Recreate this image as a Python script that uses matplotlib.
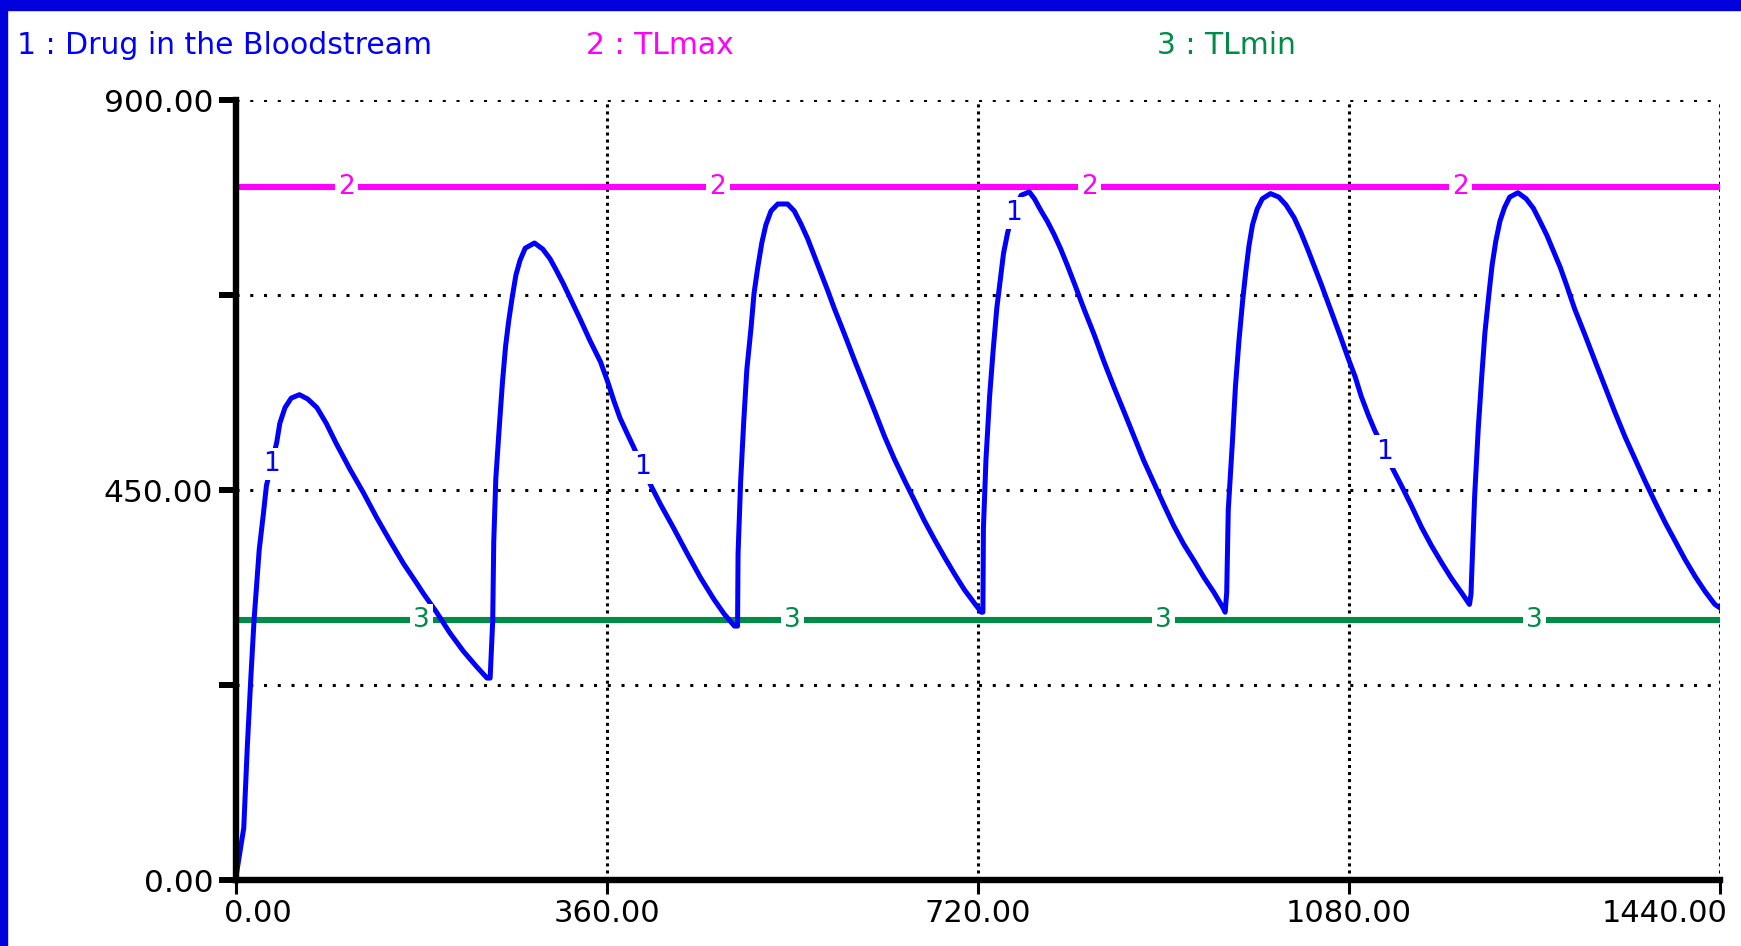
"""Drug in the bloodstream vs. therapeutic limits (STELLA-style time graph)."""

import numpy as np
import matplotlib
matplotlib.use("Agg")
import matplotlib.pyplot as plt
from matplotlib.patches import Rectangle
from matplotlib.transforms import ScaledTranslation

# ---------------------------------------------------------------------------
# Data (time in minutes, amount of drug)
# ---------------------------------------------------------------------------
drug_t = [
    0, 8, 11.5, 15, 18, 23, 27, 30, 35, 40, 43, 48, 54, 62, 70, 79, 88, 98,
    111, 124, 137, 150, 163, 176, 182, 195, 208, 221, 234, 244,
    247, 249.5, 250.5, 252.5, 256, 259, 262, 265, 268.5, 272, 276, 281, 290,
    298, 305, 311, 318, 324, 334, 344, 354, 361, 367, 373, 380, 386, 395,
    403, 412, 425, 438, 451, 464, 474, 484,
    487, 487.5, 490, 493, 496, 500, 503, 506.5, 510.5, 514.5, 519.5, 526,
    535.5, 542, 548.5, 555, 561.5, 568, 574.5, 581, 591, 600, 610, 620,
    629.5, 639, 649, 659, 668, 678, 688, 698, 707, 717, 723.5,
    725, 725.5, 728, 731.5, 735, 738.5, 742, 745, 749, 752, 757, 762, 770,
    775, 781, 787.5, 794, 800.5, 807, 813.5, 823, 833, 842.5, 852, 862,
    871.5, 881, 891, 900.5, 910, 920, 930, 939.5, 949, 957, 960,
    961.5, 963, 967, 970, 973.5, 977, 980, 983, 986.5, 991, 996, 1004, 1012,
    1019, 1027, 1033.5, 1040, 1046.5, 1053, 1059.5, 1066, 1072.5, 1079,
    1086, 1092, 1099, 1105, 1114, 1121, 1131, 1141, 1150.5, 1160, 1170,
    1179.5, 1189, 1197,
    1198.5, 1199, 1202, 1205.5, 1209, 1212, 1216, 1219, 1222.5, 1226.5,
    1231, 1236, 1244, 1252, 1259, 1265, 1272, 1278, 1285, 1291, 1299, 1309,
    1319, 1328.5, 1338, 1348, 1357.5, 1367, 1377, 1387, 1396.5, 1406, 1416,
    1425.5, 1435, 1440,
]
drug_v = [
    0, 60, 155, 236, 300, 381, 422, 455, 480, 505, 527, 545, 556, 560, 555,
    545, 527, 503, 474, 447, 418, 391, 365, 342, 331, 309, 285, 264, 246, 233,
    233, 299, 390, 463, 525, 575, 616, 645, 673, 698, 715, 729, 735,
    728, 717, 704, 688, 673, 648, 622, 598, 575, 553, 533, 515, 500, 476,
    455, 434, 406, 377, 349, 324, 307, 293,
    293, 377, 460, 529, 589, 636, 677, 706, 735, 756, 772, 780,
    780, 772, 757, 740, 720, 700, 680, 659, 629, 601, 571, 541,
    512, 486, 461, 437, 415, 393, 372, 352, 335, 319, 309,
    309, 406, 486, 558, 612, 660, 694, 723, 747, 760, 776, 790, 794,
    786, 773, 760, 745, 728, 709, 689, 659, 629, 598, 569, 540,
    512, 484, 458, 433, 409, 387, 368, 349, 332, 316, 309,
    332, 427, 505, 570, 624, 669, 702, 731, 756, 774, 786, 792, 788,
    779, 764, 747, 728, 708, 688, 667, 646, 625, 603,
    581, 558, 536, 519, 497, 478, 455, 431, 407, 386, 366,
    348, 332, 318,
    330, 348, 443, 521, 583, 632, 678, 710, 737, 760,
    776, 788, 793, 786, 775, 761, 744, 727, 707, 687, 659, 629,
    598, 569, 540, 511, 486, 461, 436, 412, 391, 370, 350,
    333, 318, 314,
]
tlmax_t = [0, 1440]
tlmax_v = [800, 800]
tlmin_t = [0, 1440]
tlmin_v = [300, 300]

# where the series numbers sit on each curve
label1_t = [35, 395, 755, 1115]
label2_t = [108, 468, 828, 1188]
label3_t = [180, 540, 900, 1260]

legend_names = ["1 : Drug in the Bloodstream", "2 : TLmax", "3 : TLmin"]
x_ticks = [0, 360, 720, 1080, 1440]
x_labels = ["0.00", "360.00", "720.00", "1080.00", "1440.00"]
y_ticks = [0, 225, 450, 675, 900]
y_labels = ["0.00", "", "450.00", "", "900.00"]

BLUE = "#0000FF"
MAGENTA = "#FF00FF"
GREEN = "#008C46"
FRAME = "#0000DD"

W, H = 1741, 946
fig = plt.figure(figsize=(W / 100, H / 100), dpi=100)
ax = fig.add_axes([235.5 / W, 1 - 880 / H, (1720 - 235.5) / W, 780 / H])

# frame of the window: blue band on top and left
fig.add_artist(Rectangle((0, 1 - 10 / H), 1, 10 / H, transform=fig.transFigure,
                         color=FRAME, zorder=10))
fig.add_artist(Rectangle((0, 0), 7 / W, 1, transform=fig.transFigure,
                         color=FRAME, zorder=10))

# curves
ax.plot(tlmax_t, tlmax_v, color=MAGENTA, linewidth=4.4, zorder=3,
        solid_capstyle="butt")
ax.plot(tlmin_t, tlmin_v, color=GREEN, linewidth=4.4, zorder=3,
        solid_capstyle="butt")
ax.plot(drug_t, drug_v, color=BLUE, linewidth=3.6, zorder=4)

# series numbers on the curves, knocked out of the line
box = dict(boxstyle="square,pad=0.12", fc="white", ec="none")
for t in label1_t:
    ax.text(t, np.interp(t, drug_t, drug_v), "1", color=BLUE, fontsize=19,
            ha="center", va="center", bbox=box, zorder=6)
for t in label2_t:
    ax.text(t, np.interp(t, tlmax_t, tlmax_v), "2", color=MAGENTA, fontsize=19,
            ha="center", va="center", bbox=box, zorder=6)
for t in label3_t:
    ax.text(t, np.interp(t, tlmin_t, tlmin_v), "3", color=GREEN, fontsize=19,
            ha="center", va="center", bbox=box, zorder=6)

# axes styling
ax.set_xlim(0, 1440)
ax.set_ylim(0, 900)
ax.set_xticks(x_ticks)
ax.set_xticklabels(x_labels)
ax.set_yticks(y_ticks)
ax.set_yticklabels(y_labels)
for side in ("top", "right"):
    ax.spines[side].set_visible(False)
for side in ("left", "bottom"):
    ax.spines[side].set_linewidth(4.6)
    ax.spines[side].set_zorder(5)
ax.tick_params(axis="y", direction="out", length=12.5, width=4.3, pad=3.5,
               labelsize=22.5)
ax.tick_params(axis="x", direction="out", length=10, width=2.2, pad=4,
               labelsize=22)

xl = ax.get_xticklabels()
xl[0].set_ha("left")
xl[0].set_transform(xl[0].get_transform() + ScaledTranslation(-0.11, 0, fig.dpi_scale_trans))
xl[-1].set_ha("right")
xl[-1].set_transform(xl[-1].get_transform() + ScaledTranslation(0.08, 0, fig.dpi_scale_trans))

ax.yaxis.grid(True, color="black", linewidth=2.2, linestyle=(0, (1, 3.5)))
ax.xaxis.grid(True, color="black", linewidth=2.2, linestyle=(0, (1, 1.3)))
ax.set_axisbelow(True)

# legend row along the top
for name, color, x in zip(legend_names, [BLUE, MAGENTA, GREEN], [17, 586, 1157]):
    fig.text(x / W, 1 - 54 / H, name, color=color, fontsize=21.5,
             ha="left", va="baseline")

fig.savefig("out.png", dpi=100)
